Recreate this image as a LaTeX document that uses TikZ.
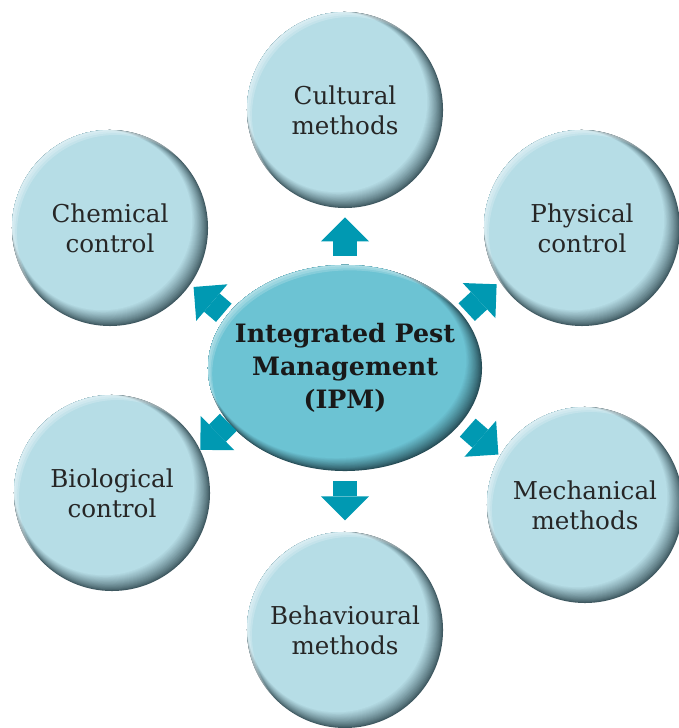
\documentclass[tikz,border=0pt]{standalone}
\usepackage{fontspec}
\setmainfont{DejaVu Serif}
\usepackage{tikz}
\usetikzlibrary{shapes.geometric,arrows.meta,positioning,calc}
\definecolor{ballbase}{RGB}{182,221,230}
\definecolor{balldark}{RGB}{62,88,96}
\definecolor{ipmbase}{RGB}{108,195,211}
\definecolor{ipmdark}{RGB}{38,76,86}
\definecolor{ipmarrow}{RGB}{0,153,178}

\tikzset{
    % bolas con borde oscuro abajo a la derecha
    pestball/.style={circle, minimum size=4.9cm, fill=balldark, align=center, text=black!85, font=\fontsize{17.5}{21.5}\selectfont,
        path picture={
            \foreach \k in {1,...,18}{
                \pgfmathtruncatemacro\mixp{100*(\k/18)^0.8}
                \fill[ballbase!\mixp!balldark] ([shift={(-\k*0.011cm,\k*0.011cm)}]path picture bounding box.center) circle ({2.45cm-\k*0.011cm});
            }
            \foreach \k in {1,2,3}{
                \fill[white, fill opacity=0.2, even odd rule] (path picture bounding box.center) circle (2.46cm) ([shift={(\k*0.045cm,-\k*0.045cm)}]path picture bounding box.center) circle (2.46cm);
            }
        }},
    ipmhub/.style={ellipse, minimum width=6.85cm, minimum height=5.15cm, inner sep=0pt, fill=ipmdark,
        path picture={
            \foreach \k in {1,...,18}{
                \pgfmathtruncatemacro\mixp{100*(\k/18)^0.8}
                \fill[ipmbase!\mixp!ipmdark] ([shift={(-\k*0.013cm,\k*0.011cm)}]path picture bounding box.center) ellipse ({3.425cm-\k*0.009cm} and {2.575cm-\k*0.007cm});
            }
            \foreach \k in {1,2,3}{
                \fill[white, fill opacity=0.18, even odd rule] (path picture bounding box.center) ellipse (3.44cm and 2.59cm) ([shift={(\k*0.04cm,-\k*0.05cm)}]path picture bounding box.center) ellipse (3.44cm and 2.59cm);
            }
        }},
    ipmlabel/.style={align=center, text=black!90, font=\bfseries\fontsize{18}{23.5}\selectfont},
    pestarrow/.style={draw=ipmarrow, line width=0.6cm, -{Triangle[width=1.2cm, length=0.6cm, line width=0pt, fill=ipmarrow]}}
}

\begin{document}
\begin{tikzpicture}[x=0.025cm, y=0.025cm]
    \useasboundingbox (0,0) rectangle (678,728);

    % Nodo central
    \node[ipmhub] (ipm) at (345,360) {};
    \node[ipmlabel] (ipmtext) at (ipm) {Integrated Pest\\Management\\(IPM)};

    % Métodos alrededor
    \node[pestball] (cult) at (345,618) {Cultural\\methods};
    \node[pestball] (chem) at (110,500) {Chemical\\control};
    \node[pestball] (phys) at (582,500) {Physical\\control};
    \node[pestball] (bio) at (112,235) {Biological\\control};
    \node[pestball] (mech) at (585,223) {Mechanical\\methods};
    \node[pestball] (behav) at (345,98) {Behavioural\\methods};

    % Flechas de bloque
    \draw[pestarrow, shorten <=0.225cm, shorten >=0.225cm] (ipm) -- (cult);
    \draw[pestarrow, shorten <=0.25cm, shorten >=0.28cm] (ipm) -- (behav);
    \draw[pestarrow, shorten <=0.1cm, shorten >=0.1cm] (ipm.156) -- (chem.-35);
    \draw[pestarrow, shorten <=0.12cm, shorten >=0.1cm] (ipm.24) -- (phys.213);
    \draw[pestarrow] (ipm.205) -- (bio.26);
    \draw[pestarrow, shorten <=0.2cm, shorten >=0.05cm] (ipm.-25) -- (mech.150);
\end{tikzpicture}
\end{document}
